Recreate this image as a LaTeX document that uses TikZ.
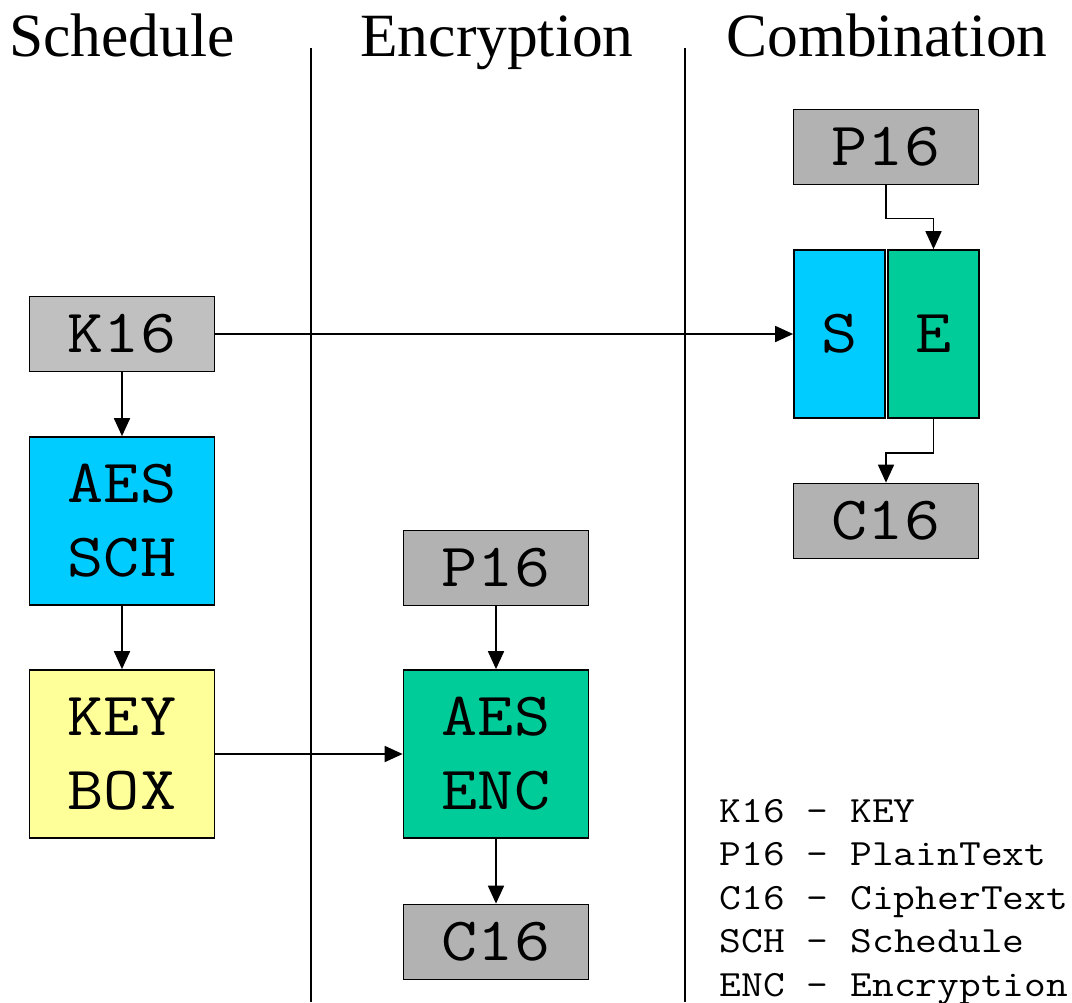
\documentclass[tikz,border=0pt]{standalone}
\usepackage{fontspec}
\setmainfont{Liberation Serif}
\newfontfamily\boxfont[FakeStretch=1.14]{Latin Modern Mono}
\usetikzlibrary{arrows.meta}

\definecolor{schblue}{HTML}{00CCFF}
\definecolor{encgreen}{HTML}{00CC99}
\definecolor{keyyellow}{HTML}{FFFF99}
\definecolor{datagray}{HTML}{B2B2B2}
\definecolor{keygray}{HTML}{C0C0C0}

\begin{document}
\begin{tikzpicture}[x=0.02cm,y=-0.02cm,
  line width=1pt,
  block/.style={draw,line width=1pt,inner sep=0pt,align=center,
    font=\boxfont\fontsize{35}{42}\selectfont},
  data node/.style={block,fill=datagray,minimum width=3.7cm,minimum height=1.5cm},
  main node/.style={block,minimum width=3.7cm,minimum height=3.36cm},
  half node/.style={block,minimum width=1.82cm,minimum height=3.36cm},
  head/.style={anchor=base,font=\fontsize{35}{42}\selectfont},
  flow/.style={-{Triangle[length=0.36cm,width=0.32cm]}}]

  \useasboundingbox (0,0) rectangle (1072,1002);

  % column titles and dividers
  \node[head] (h1) at (122,56) {Schedule};
  \node[head] (h2) at (497,56) {Encryption};
  \node[head] (h3) at (887,56) {Combination};
  \draw (311,48) -- (311,1002);
  \draw (685,48) -- (685,1002);

  % key schedule
  \node[data node,fill=keygray] (k16) at (122,334) {K16};
  \node[main node,fill=schblue] (sch) at (122,521) {AES\\SCH};
  \node[main node,fill=keyyellow] (kbox) at (122,754) {KEY\\BOX};

  % encryption
  \node[data node] (p16) at (496,568) {P16};
  \node[main node,fill=encgreen] (enc) at (496,754) {AES\\ENC};
  \node[data node] (c16) at (496,942) {C16};

  % combined unit
  \node[data node] (p16b) at (886,147) {P16};
  \node[half node,fill=schblue] (s) at (839.5,334) {S};
  \node[half node,fill=encgreen] (e) at (933.5,334) {E};
  \node[data node] (c16b) at (886,521) {C16};

  \path[flow]
    (k16) edge (sch)
    (sch) edge (kbox)
    (kbox) edge (enc)
    (p16) edge (enc)
    (enc) edge (c16)
    (k16) edge (s);
  \draw[flow] (p16b.south) -- ++(0,33) -| (e.north);
  \draw[flow] (e.south) -- ++(0,34) -| (c16b.north);

  % legend
  \foreach \y/\txt in {822/K16 - KEY,865.5/P16 - PlainText,909/C16 - CipherText,
      952.5/SCH - Schedule,996/ENC - Encryption}
    \node[anchor=base west,inner sep=0pt,font=\boxfont\fontsize{21.1}{25}\selectfont]
      at (719,\y) {\txt};
\end{tikzpicture}
\end{document}
